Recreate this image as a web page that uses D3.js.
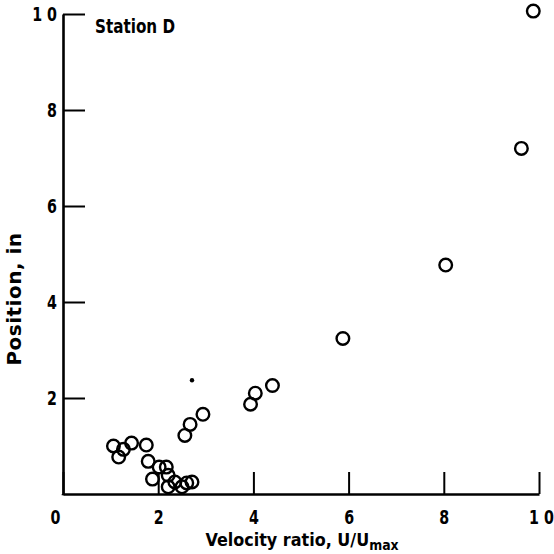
<!DOCTYPE html>
<html>
<head>
<meta charset="utf-8">
<script src="https://cdn.jsdelivr.net/npm/d3@7"></script>
<style>
  html, body { margin: 0; padding: 0; background: #fff; }
  svg { display: block; }
  text { font-family: "DejaVu Sans", sans-serif; font-weight: bold; fill: #000; }
</style>
</head>
<body>
<script>
// Data
const velocityRatio = [1.06, 1.17, 1.27, 1.44, 1.75, 1.79, 1.88, 2.02, 2.17, 2.21, 2.21, 2.35, 2.50, 2.60, 2.71,
                       2.56, 2.67, 2.94, 3.94, 4.04, 4.40, 5.88, 8.04, 9.63, 9.88];
const position      = [1.00, 0.77, 0.93, 1.06, 1.02, 0.68, 0.31, 0.56, 0.56, 0.39, 0.15, 0.25, 0.15, 0.23, 0.25,
                       1.22, 1.45, 1.66, 1.87, 2.10, 2.26, 3.24, 4.77, 7.20, 10.06];
const dotX = [2.71];
const dotY = [2.37];
const xTicks = [0, 2, 4, 6, 8, 10];
const xTickLabels = ["0", "2", "4", "6", "8", "1 0"];
const yTicks = [2, 4, 6, 8, 10];
const yTickLabels = ["2", "4", "6", "8", "1 0"];

const W = 554, H = 554;
const svg = d3.select("body").append("svg").attr("width", W).attr("height", H);

const x = d3.scaleLinear().domain([0, 10]).range([63, 539]);
const y = d3.scaleLinear().domain([0, 10]).range([494, 14]);
const SX = 0.75; // horizontal squeeze for the condensed lettering

// Bottom axis
const gx = svg.append("g").attr("transform", `translate(0,${y(0)})`)
  .call(d3.axisBottom(x).tickValues(xTicks).tickSizeInner(-22).tickSizeOuter(0)
    .tickPadding(30).tickFormat((d, i) => xTickLabels[i]));
gx.select(".domain").attr("stroke", "#000").attr("stroke-width", 2.6);
gx.selectAll(".tick line").attr("stroke", "#000").attr("stroke-width", 2);
gx.selectAll(".tick text").attr("font-size", 19).attr("font-family", null).attr("dy", "0")
  .attr("x", (d) => (d === 0 ? -8 : (d === 10 ? 2 : 0)) / SX)
  .attr("transform", `scale(${SX},1)`);

// Left axis
const gy = svg.append("g").attr("transform", `translate(${x(0)},0)`)
  .call(d3.axisLeft(y).tickValues(yTicks).tickSizeInner(-22).tickSizeOuter(0)
    .tickPadding(5).tickFormat((d, i) => yTickLabels[i]));
gy.select(".domain").attr("stroke", "#000").attr("stroke-width", 2.6);
gy.selectAll(".tick line").attr("stroke", "#000").attr("stroke-width", 2);
gy.selectAll(".tick text").attr("font-size", 19).attr("font-family", null)
  .attr("x", -6 / SX).attr("dy", "0.36em")
  .attr("transform", `scale(${SX},1)`);
svg.append("line").attr("x1", x(0)).attr("x2", x(0)).attr("y1", y(0)).attr("y2", y(0) + 1.3)
  .attr("stroke", "#000").attr("stroke-width", 2.6);

// Points
svg.append("g").selectAll("circle").data(velocityRatio).join("circle")
  .attr("cx", (d) => x(d))
  .attr("cy", (d, i) => y(position[i]))
  .attr("r", 6.3)
  .attr("fill", "none")
  .attr("stroke", "#000")
  .attr("stroke-width", 2.4);

svg.append("g").selectAll("circle").data(dotX).join("circle")
  .attr("cx", (d) => x(d))
  .attr("cy", (d, i) => y(dotY[i]))
  .attr("r", 2.2)
  .attr("fill", "#000");

// Station label
svg.append("g").attr("transform", "translate(95,33) scale(0.8,1)")
  .append("text").attr("font-size", 19).text("Station D");

// Axis titles
const xt = svg.append("g").attr("transform", "translate(302,546) scale(0.89,1)")
  .append("text").attr("text-anchor", "middle").attr("font-size", 18);
xt.append("tspan").text("Velocity ratio,  U/U");
xt.append("tspan").attr("dy", 4).attr("font-size", 14).text("max");

svg.append("g").attr("transform", "translate(21,299) rotate(-90)")
  .append("text").attr("text-anchor", "middle").attr("font-size", 20)
  .attr("letter-spacing", 0.5).text("Position, in");
</script>
</body>
</html>
